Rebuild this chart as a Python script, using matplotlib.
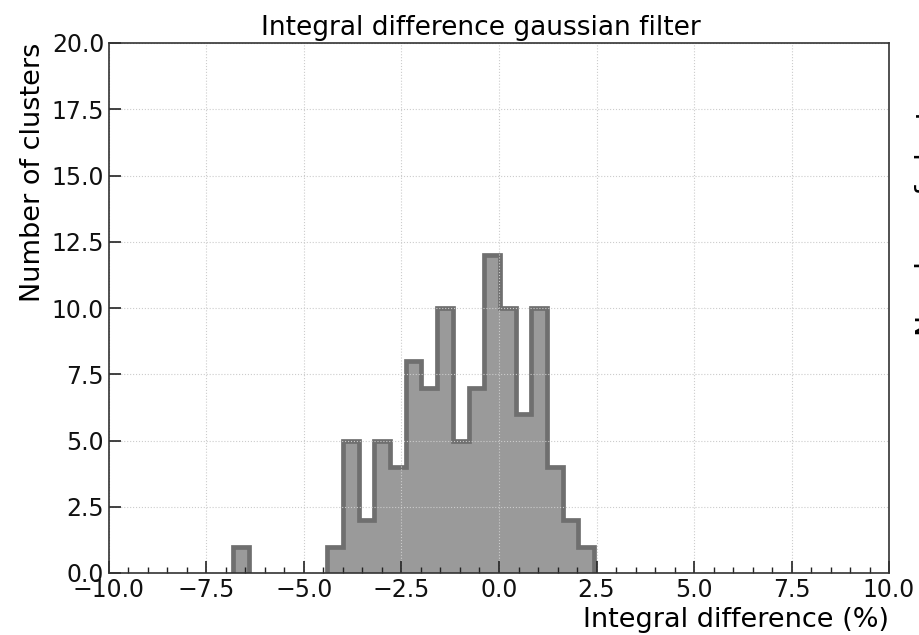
import numpy as np
import matplotlib
matplotlib.use("Agg")
import matplotlib.pyplot as plt
from matplotlib.ticker import MultipleLocator

# Data: histogram of integral difference (%) for 100 clusters
data_min = -6.82
data_max = 2.44
counts = [1, 0, 0, 0, 0, 0, 1, 5, 2, 5, 4, 8, 7, 10, 5, 7, 12, 10, 6, 10, 4, 2, 1]
x_ticks = [-10.0, -7.5, -5.0, -2.5, 0.0, 2.5, 5.0, 7.5, 10.0]
y_ticks = [0.0, 2.5, 5.0, 7.5, 10.0, 12.5, 15.0, 17.5, 20.0]

edges = np.linspace(data_min, data_max, len(counts) + 1)
cnt = np.asarray(counts)

fig = plt.figure(figsize=(9.2, 6.35), dpi=100)
ax = fig.add_axes([109 / 920, 1 - 573 / 635, 780 / 920, 530 / 635])

ax.stairs(cnt, edges, fill=True, facecolor='#9a9a9a', edgecolor='none')

# outline drawn per run of non-empty bins (no line along empty bins)
nonzero = cnt > 0
i = 0
n = len(cnt)
while i < n:
    if nonzero[i]:
        j = i
        while j < n and nonzero[j]:
            j += 1
        ax.stairs(cnt[i:j], edges[i:j + 1], fill=False, edgecolor='#6f6f6f',
                  linewidth=3.4, joinstyle='miter')
        i = j
    else:
        i += 1

ax.set_xlim(-10, 10)
ax.set_ylim(0, 20)
ax.set_xticks(x_ticks)
ax.set_yticks(y_ticks)
ax.set_xticklabels([f"{v:.1f}".replace("-", "\u2212") for v in x_ticks])
ax.set_yticklabels([f"{v:.1f}" for v in y_ticks])
ax.xaxis.set_minor_locator(MultipleLocator(0.5))
ax.tick_params(axis='both', which='major', direction='in', length=8.5, width=1.2,
               labelsize=17, colors='#222222', labelcolor='#111111')
ax.tick_params(axis='x', which='minor', direction='in', length=4.3, width=1.0, colors='#222222')
ax.grid(True, which='major', linestyle=':', color='#cccccc', linewidth=0.8)

for s in ax.spines.values():
    s.set_linewidth(1.2)
    s.set_color('#333333')

ax.set_title("Integral difference gaussian filter", fontsize=19, x=0.477)
ax.set_xlabel("Integral difference (%)", fontsize=19.5, loc='right')
ax.set_ylabel("Number of clusters", fontsize=19.5, loc='top')

# partially visible label of a neighbouring panel at the right edge
fig.text(915 / 920, 1 - 200 / 635, "Number of clusters", rotation=90, fontsize=20.5,
         ha='left', va='center')

fig.savefig("out.png", dpi=100)
